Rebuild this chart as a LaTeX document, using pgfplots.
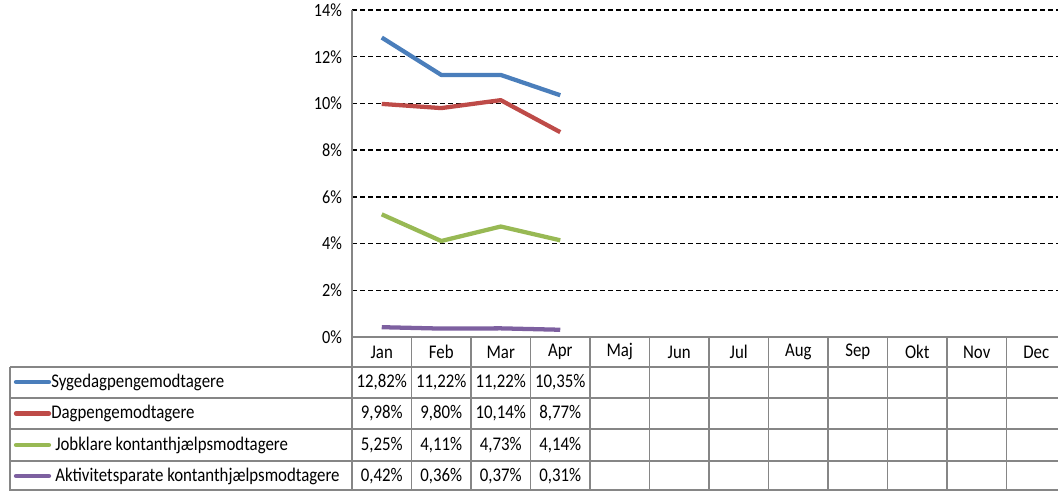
\documentclass[border=0pt]{standalone}
\usepackage{pgfplots}
\pgfplotsset{compat=1.18}
\usepackage{fontspec}
\setmainfont{Carlito}
\newfontfamily\tabfont{Carlito}[FakeStretch=0.87]

\definecolor{sblue}{HTML}{4A7EBB}
\definecolor{sred}{HTML}{BE4B48}
\definecolor{sgreen}{HTML}{98B954}
\definecolor{spurple}{HTML}{7D60A0}
\definecolor{tline}{HTML}{868686}

\begin{document}
\begin{tikzpicture}
  \path[use as bounding box] (0,0) rectangle (793.5pt,-368.25pt);
  \clip (0,0) rectangle (793.5pt,-368.25pt);
  \begin{axis}[at={(264pt,-252.75pt)}, anchor=south west,
      width=535.5pt, height=245.25pt, scale only axis,
      xmin=0, xmax=12, ymin=0, ymax=14,
      xtick=\empty, ytick={0,2,...,14},
      yticklabel={\pgfmathprintnumber{\tick}\%},
      /pgf/number format/assume math mode=true,
      yticklabel style={font=\tabfont\fontsize{14}{16}\selectfont, xshift=-4pt},
      major tick length=0pt,
      axis line style={draw=none},
      ymajorgrids, grid style={black, line width=1.1pt, dash pattern=on 3.6pt off 2.4pt},
      clip=false]
    \addplot[sblue, line width=3.2pt, line join=round] coordinates {(0.5,12.82) (1.5,11.22) (2.5,11.22) (3.5,10.35)};
    \addplot[sred, line width=3.2pt, line join=round] coordinates {(0.5,9.98) (1.5,9.80) (2.5,10.14) (3.5,8.77)};
    \addplot[sgreen, line width=3.2pt, line join=round] coordinates {(0.5,5.25) (1.5,4.11) (2.5,4.73) (3.5,4.14)};
    \addplot[spurple, line width=3.2pt, line join=round] coordinates {(0.5,0.42) (1.5,0.36) (2.5,0.37) (3.5,0.31)};
  \end{axis}
  % data table
  \begin{scope}[x=0.75pt, y=-0.75pt]
    \draw[tline, line width=1.2pt] (352,10) -- (352,491);
    \foreach \i in {1,...,12} \draw[tline, line width=1.2pt] (352+59.5*\i,337) -- (352+59.5*\i,491);
    \draw[tline, line width=1.2pt] (10,367) -- (10,491);
    \draw[tline, line width=1.3pt] (352,337) -- (1070,337);
    \foreach \y in {367,398,429,461,490} \draw[tline, line width=1.2pt] (10,\y) -- (1070,\y);
    \foreach \m [count=\i from 0] in {Jan,Feb,Mar,Apr,Maj,Jun,Jul,Aug,Sep,Okt,Nov,Dec}
      \node[font=\tabfont\fontsize{14.5}{16}\selectfont] at (352+59.5*\i+29.75,352) {\m};
    \foreach \c/\y/\t/\xs in {sblue/382/Sygedagpengemodtagere/51,
                              sred/413.5/Dagpengemodtagere/51,
                              sgreen/445/Jobklare kontanthjælpsmodtagere/55,
                              spurple/476/Aktivitetsparate kontanthjælpsmodtagere/55} {
      \draw[\c, line width=3.2pt, line cap=round] (16,\y) -- (49,\y);
      \node[anchor=west, inner sep=0pt, font=\tabfont\fontsize{14.5}{16}\selectfont] at (\xs,\y) {\t};
    }
    \foreach \a/\b/\c/\d/\y in {12{,}82\%/11{,}22\%/11{,}22\%/10{,}35\%/382,
                                9{,}98\%/9{,}80\%/10{,}14\%/8{,}77\%/413.5,
                                5{,}25\%/4{,}11\%/4{,}73\%/4{,}14\%/445,
                                0{,}42\%/0{,}36\%/0{,}37\%/0{,}31\%/476} {
      \foreach \v [count=\i from 0] in {\a,\b,\c,\d}
        \node[font=\tabfont\fontsize{14.5}{16}\selectfont] at (352+59.5*\i+29.75,\y) {\v};
    }
  \end{scope}
\end{tikzpicture}
\end{document}
